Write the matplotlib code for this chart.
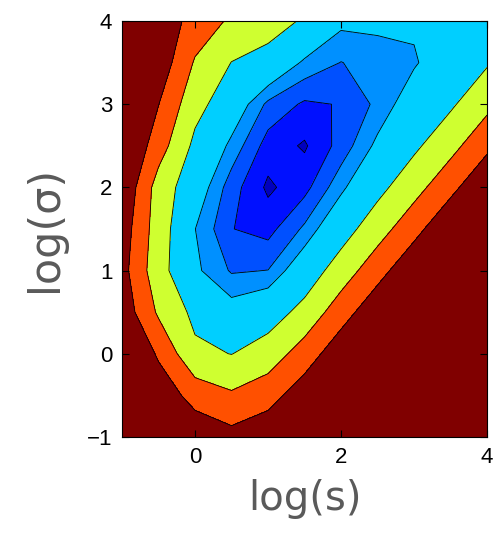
import matplotlib
matplotlib.use("Agg")
import matplotlib.pyplot as plt
import numpy as np

# grid of the fitted surface
log_s = [-1, -0.5, 0, 0.5, 1, 1.5, 2, 2.5, 3, 3.5, 4]
log_sigma = [4, 3.5, 3, 2.5, 2, 1.5, 1, 0.5, 0, -0.5, -1]

# misfit values, one row per log_sigma (top row first)
misfit = [
    [16.0, 13.3, 10.5, 8.6, 7.6, 6.2, 4.3, 4.3, 4.2, 4.6, 5.06],
    [15.5, 13.1, 8.75, 6.45, 5.56, 3.76, 2.97, 3.44, 3.85, 5.0, 6.26],
    [15.0, 11.55, 7.3, 5.06, 2.75, 1.83, 2.06, 3.24, 4.86, 6.15, 8.32],
    [14.5, 10.15, 5.92, 3.67, 1.54, 0.87, 2.39, 4.3, 6.05, 8.17, 10.94],
    [13.7, 7.9, 4.92, 2.45, 0.8, 1.65, 3.7, 5.8, 8.05, 10.8, 13.7],
    [12.85, 7.7, 4.02, 2.03, 1.63, 3.2, 5.44, 7.88, 10.68, 13.6, 16.0],
    [12.4, 7.4, 4.25, 2.88, 3.02, 5.1, 7.63, 10.56, 13.4, 16.0, 18.0],
    [13.07, 8.63, 5.9, 4.61, 5.35, 7.24, 10.39, 13.25, 16.0, 18.0, 20.0],
    [15.1, 11.1, 7.0, 6.45, 7.6, 10.18, 13.1, 16.0, 18.0, 20.0, 22.0],
    [16.0, 13.2, 10.48, 9.33, 10.52, 12.9, 15.5, 18.0, 20.0, 22.0, 24.0],
    [17.0, 15.0, 13.3, 12.3, 13.2, 15.6, 18.0, 20.0, 22.0, 24.0, 26.0],
]

levels = [0, 1, 2, 3, 4, 6.5, 9, 11.5, 30]
band_colors = ['#0000BF', '#0010FF', '#0050FF', '#0090FF',
               '#00CFFF', '#CFFF30', '#FF5000', '#800000']

fig = plt.figure(figsize=(4.96, 5.4), dpi=100)
ax = fig.add_axes([0.246, 0.191, 0.736, 0.770])

X, Y = np.meshgrid(log_s, log_sigma)
Z = np.array(misfit)
ax.contourf(X, Y, Z, levels=levels, colors=band_colors)
ax.contour(X, Y, Z, levels=levels[1:-1], colors='k', linewidths=0.6)

ax.set_xlim(-1, 4)
ax.set_ylim(-1, 4)
ax.set_xticks([0, 2, 4])
ax.set_yticks([-1, 0, 1, 2, 3, 4])
ax.tick_params(direction='in', top=True, right=True, length=5, width=0.8,
               labelsize=16, pad=7)
for lab in ax.get_xticklabels() + ax.get_yticklabels():
    lab.set_family(['Liberation Sans', 'DejaVu Sans'])
for sp in ax.spines.values():
    sp.set_linewidth(0.8)

ax.set_xlabel('log(s)', fontsize=29, color='#5a5a5a',
              family='DejaVu Sans', labelpad=8)
ax.set_ylabel('log(σ)', fontsize=31, color='#5a5a5a',
              family='DejaVu Sans', labelpad=15)

fig.savefig('out.png', dpi=100)
